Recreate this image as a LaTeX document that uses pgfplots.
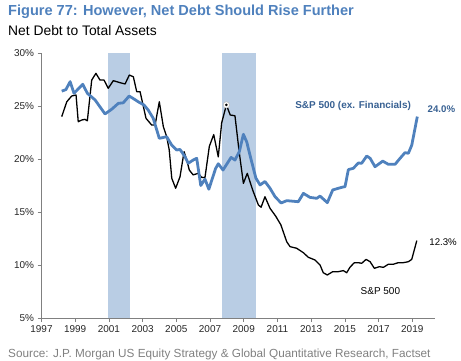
\documentclass[border=0pt]{standalone}
\usepackage{fontspec}
\setmainfont{Liberation Sans}
\usepackage{pgfplots}
\pgfplotsset{compat=1.18}
\definecolor{jpblue}{RGB}{79,129,189}
\definecolor{jpdark}{RGB}{55,96,146}
\definecolor{recbar}{RGB}{185,205,228}
\definecolor{axgray}{RGB}{128,128,128}
\definecolor{srcgray}{RGB}{128,128,128}
\begin{document}
\begin{tikzpicture}
\path[use as bounding box] (0,0) rectangle (461bp,361bp);
\begin{axis}[
  at={(41.5bp,43bp)}, anchor=south west,
  scale only axis, width=393.5bp, height=265bp,
  xmin=1997, xmax=2020.35, ymin=5, ymax=30,
  axis lines*=left,
  axis line style={-, draw=axgray, line width=0.8pt},
  xtick={1997,1999,...,2019}, ytick={5,10,...,30},
  tick align=outside, major tick length=4bp,
  tick style={draw=axgray, line width=0.6pt},
  /pgf/number format/assume math mode=true,
  x tick label style={/pgf/number format/1000 sep={}, font=\fontsize{10}{12}\selectfont, text=black!85},
  y tick label style={font=\fontsize{10}{12}\selectfont, text=black!85},
  yticklabel={\pgfmathprintnumber{\tick}\%},
  clip=false,
]
% recession bars
\addplot[fill=recbar, draw=none] coordinates {(2000.95,5) (2002.25,5) (2002.25,30) (2000.95,30)} -- cycle;
\addplot[fill=recbar, draw=none] coordinates {(2007.71,5) (2009.74,5) (2009.74,30) (2007.71,30)} -- cycle;
% S&P 500
\addplot[black, line width=1.3pt, line join=round] coordinates {
(1998.2,24.0) (1998.5,25.4) (1998.79,25.94) (1999.05,26.04) (1999.18,23.52) (1999.39,23.68)
(1999.58,23.74) (1999.72,23.6) (1999.98,27.45) (2000.23,28.08) (2000.47,27.45) (2000.71,27.45)
(2000.96,26.67) (2001.26,27.39) (2001.66,27.2) (2001.96,27.08) (2002.21,27.92) (2002.45,27.76)
(2002.65,26.35) (2002.85,26.35) (2003.2,23.84) (2003.54,23.2) (2003.74,23.2) (2003.99,25.4)
(2004.23,23.05) (2004.43,22.1) (2004.58,20.85) (2004.73,18.18) (2004.96,17.24) (2005.22,18.33)
(2005.46,20.69) (2005.62,19.9) (2005.77,18.96) (2006.0,18.5) (2006.3,18.65) (2006.5,18.27)
(2006.7,18.25) (2006.96,21.2) (2007.22,22.3) (2007.49,20.2) (2007.69,23.4) (2007.97,25.1)
(2008.2,24.15) (2008.48,24.08) (2008.72,20.8) (2008.98,17.7) (2009.21,18.65) (2009.53,17.08)
(2009.87,15.66) (2010.03,15.45) (2010.26,16.44) (2010.56,15.35) (2010.9,14.6) (2011.2,13.8)
(2011.55,12.2) (2011.75,11.73) (2012.14,11.58) (2012.54,11.16) (2012.83,10.73) (2013.23,10.47)
(2013.53,10.0) (2013.72,9.27) (2013.96,9.06) (2014.28,9.37) (2014.61,9.37) (2014.91,9.47)
(2015.11,9.27) (2015.3,9.78) (2015.55,10.2) (2015.8,10.22) (2016.0,10.16) (2016.26,10.53)
(2016.5,10.31) (2016.75,9.69) (2017.05,9.84) (2017.29,9.78) (2017.58,10.07) (2017.88,10.07)
(2018.17,10.22) (2018.47,10.22) (2018.77,10.31) (2018.97,10.53) (2019.27,12.3)
};
% S&P 500 ex Financials
\addplot[jpblue, line width=2.8pt, line join=round] coordinates {
(1998.2,26.4) (1998.45,26.55) (1998.7,27.3) (1998.93,26.2) (1999.45,27.05) (1999.72,26.2)
(2000.18,25.57) (2000.77,24.25) (2001.17,24.7) (2001.56,25.25) (2001.85,25.3) (2002.2,25.94)
(2002.45,25.7) (2002.74,25.4) (2003.08,25.1) (2003.34,24.6) (2003.63,23.84) (2003.99,21.95)
(2004.43,22.1) (2004.73,21.3) (2005.02,20.85) (2005.22,20.9) (2005.52,20.2) (2005.71,19.6)
(2006.0,19.9) (2006.21,20.07) (2006.45,17.5) (2006.7,18.1) (2006.93,17.15) (2007.33,19.1)
(2007.49,19.55) (2007.77,18.96) (2008.25,20.15) (2008.48,19.9) (2008.74,20.7) (2008.98,22.33)
(2009.18,21.6) (2009.47,19.75) (2009.72,18.2) (2009.97,17.55) (2010.26,17.88) (2010.56,17.24)
(2010.86,16.44) (2011.22,15.85) (2011.55,16.07) (2012.24,15.97) (2012.54,16.76) (2012.93,16.38)
(2013.33,16.29) (2013.53,16.5) (2013.96,15.88) (2014.28,17.08) (2014.82,17.33) (2015.01,17.39)
(2015.21,19.0) (2015.5,19.12) (2015.8,19.62) (2016.0,19.6) (2016.3,20.28) (2016.5,20.07)
(2016.79,19.27) (2017.25,19.8) (2017.58,19.5) (2017.98,19.5) (2018.28,20.07) (2018.57,20.6)
(2018.77,20.54) (2018.97,21.3) (2019.3,24.0)
};
% peak marker
\addplot[only marks, mark=*, mark size=3.2pt, mark options={fill=white, draw=black!25, line width=0.6pt}] coordinates {(2007.97,25.1)};
\addplot[only marks, mark=*, mark size=1.1pt, mark options={fill=black, draw=black}] coordinates {(2007.97,25.1)};
% labels
\node[font=\fontsize{10}{12}\selectfont\bfseries, text=jpdark, inner sep=0] at (axis cs:2015.49,25.0) {S\&P 500 (ex. Financials)};
\node[font=\fontsize{9.7}{12}\selectfont\bfseries, text=jpdark, inner sep=0] at (axis cs:2020.73,24.69) {24.0\%};
\node[font=\fontsize{9.7}{12}\selectfont, text=black, inner sep=0] at (axis cs:2020.83,12.2) {12.3\%};
\node[font=\fontsize{10}{12}\selectfont, text=black, inner sep=0] at (axis cs:2017.11,7.58) {S\&P 500};
\end{axis}
\node[anchor=base west, inner sep=0, font=\fontsize{14.6}{16}\selectfont\bfseries, text=jpblue] at (8bp,345bp) {Figure 77: However, Net Debt Should Rise Further};
\node[anchor=base west, inner sep=0, font=\fontsize{13.9}{16}\selectfont, text=black] at (8bp,325bp) {Net Debt to Total Assets};
\node[anchor=base west, inner sep=0, font=\fontsize{11.8}{14}\selectfont, text=srcgray] at (8bp,4bp) {Source: J.P. Morgan US Equity Strategy \& Global Quantitative Research, Factset};
\end{tikzpicture}
\end{document}
